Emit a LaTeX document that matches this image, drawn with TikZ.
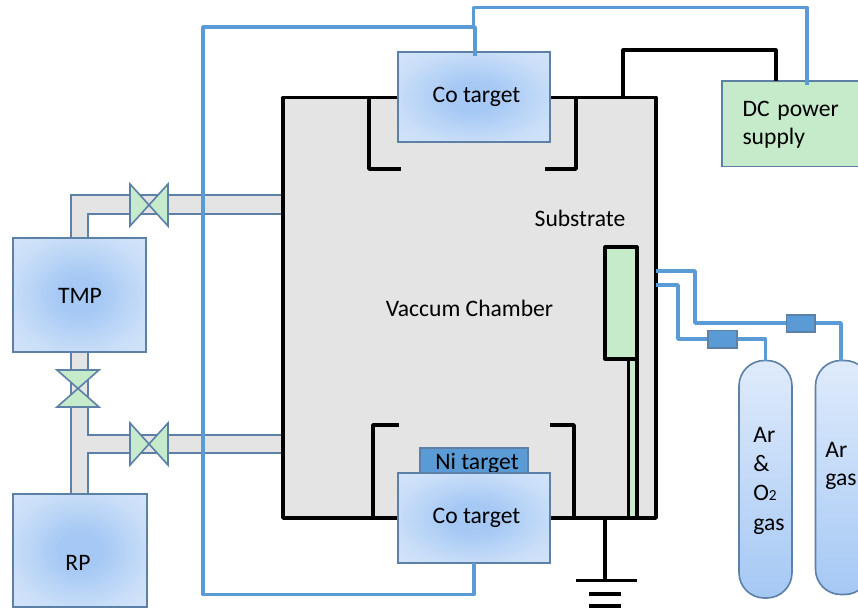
\documentclass[tikz,border=0pt]{standalone}
\usepackage{fontspec}
\setmainfont{Carlito}
\usetikzlibrary{calc}
\definecolor{edgeb}{HTML}{5C80A6}
\definecolor{wireb}{HTML}{5B9BD5}
\definecolor{greenf}{HTML}{C6EBCB}
\definecolor{grayf}{HTML}{E4E4E4}
\definecolor{glowin}{HTML}{A5C8F4}
\definecolor{glowmid}{HTML}{C9DEF8}
\definecolor{glowout}{HTML}{DFEBFB}
\pgfdeclareradialshading{tgtglow}{\pgfpoint{0bp}{0bp}}{color(0bp)=(glowin); color(8bp)=(glowin); color(26bp)=(glowmid); color(46bp)=(glowout); color(50bp)=(glowout)}
\tikzset{
  every node/.style={font=\fontsize{17.7pt}{21pt}\selectfont, text=black, inner sep=0pt, outer sep=0pt},
  blk/.style={draw=black, line width=2.7pt, line join=round},
  thinblk/.style={draw=black, line width=2.4pt, line join=round},
  wire/.style={draw=wireb, line width=2.6pt, line join=round},
  pipe/.style={draw=edgeb, fill=grayf, line width=1.2pt, line join=miter},
  glowbox/.style={draw=edgeb, line width=1.2pt, shading=tgtglow},
  chamberbox/.style={blk, fill=grayf},
  smallbox/.style={draw=edgeb, line width=1.2pt, fill=wireb},
  greenbox/.style={draw=edgeb, line width=1.2pt, fill=greenf},
  cyl/.style={draw=edgeb, line width=1.2pt, top color=glowout, bottom color=glowin, rounded corners=19pt},
  valveh/.pic={\path[draw=edgeb, line width=1.2pt, fill=greenf, line join=miter] (-19,-21) -- (19,21) -- (19,-21) -- (-19,21) -- cycle;},
  valvev/.pic={\path[draw=edgeb, line width=1.2pt, fill=greenf, line join=miter] (-21,-18.5) -- (21,18.5) -- (-21,18.5) -- (21,-18.5) -- cycle;},
}
\newcommand{\boxat}[6]{\node[#1, minimum width=#5*0.75pt-#3*0.75pt, minimum height=#6*0.75pt-#4*0.75pt] (#2) at ({(#3+#5)/2},{(#4+#6)/2}) {};}
\begin{document}
\begin{tikzpicture}[x=0.75pt,y=-0.75pt]
\useasboundingbox (0,0) rectangle (858,608);
\clip (0,0) rectangle (858,608);

% vacuum pipes
\path[pipe] (283,195) -- (71,195) -- (71,238) -- (88,238) -- (88,214) -- (283,214);
\path[pipe] (71,352) rectangle (88,494);
\path[pipe] (283,435) -- (88,435) -- (88,453) -- (283,453);
\path[fill=grayf] (85,436) rectangle (90,452);

% chamber
\boxat{chamberbox}{chamber}{283}{97.5}{656}{518}

% target shields
\coordinate (stl) at (369,97);
\coordinate (stle) at (401,169);
\coordinate (str) at (576,97);
\coordinate (stre) at (545,169);
\coordinate (sbl) at (373,518);
\coordinate (sble) at (399,425);
\coordinate (sbr) at (574,518);
\coordinate (sbre) at (550,425);
\draw[blk] (stl) |- (stle);
\draw[blk] (str) |- (stre);
\draw[blk] (sbl) |- (sble);
\draw[blk] (sbr) |- (sbre);

% substrate and holder
\boxat{thinblk, fill=greenf}{holder}{628.5}{359}{637}{518}
\boxat{thinblk, fill=greenf}{substrate}{605}{247}{637}{359}

% ground
\coordinate (gtop) at (605,518);
\coordinate (gbar) at (605,580.5);
\coordinate (gl) at (576,580.5);
\coordinate (gr) at (637,580.5);
\coordinate (gl2) at (589,594);
\coordinate (gr2) at (621,594);
\coordinate (gl3) at (589,606);
\coordinate (gr3) at (621,606);
\draw[blk] (gtop) -- (gbar);
\draw[blk] (gl) -- (gr);
\draw[blk] (gl2) -- (gr2);
\draw[blk] (gl3) -- (gr3);

% power box
\boxat{greenbox}{dc}{722}{81}{864}{166.5}
\node[text width=108pt, align=left] (dctext) at (814.5,124.5) {DC power\\supply};

% black power wire
\coordinate (bw0) at (623,97);
\coordinate (bw1) at (776,81);
\draw[thinblk] (bw0) -- (623,50) -- (776,50) -- (bw1);

% targets
\boxat{smallbox}{ni}{420}{448}{528}{473}
\node (nitext) at (477,463) {Ni target};
\boxat{glowbox}{cotop}{398}{52}{550}{142}
\node (cotoptext) at (476.5,97) {Co target};
\boxat{glowbox}{cobot}{398}{473}{550}{563}
\node (cobottext) at (476.5,517.5) {Co target};

% pumps
\boxat{glowbox}{tmp}{13}{238}{146}{352}
\node (tmptext) at (80,296) {TMP};
\boxat{glowbox}{rp}{13}{494}{147}{607}
\node (rptext) at (78,562.5) {RP};

% valves
\pic at (149,205) {valveh};
\pic at (149,444) {valveh};
\pic at (78,388.5) {valvev};

% blue wires
\coordinate (tw) at (475,56);
\coordinate (dw) at (807,85);
\draw[wire] (tw) -- (475,27) -- (203,27) -- (203,594.5) -- (474,594.5) -- (cobot.south -| 474,563);
\draw[wire] (473.5,27) -- (473.5,7.5) -- (807,7.5) -- (dw);

% gas cylinders
\boxat{cyl}{cylA}{739}{360.5}{792}{598}
\boxat{cyl}{cylB}{815.5}{360.5}{870}{594.5}
\node[align=left, text width=40pt] (cylAtext) at (780,480.5) {Ar\\[1pt]\&\\[1pt]O{\fontsize{11.5pt}{11.5pt}\selectfont 2}\\[1pt]gas};
\node[align=left, text width=40pt] (cylBtext) at (852,466) {Ar\\gas};

% gas lines
\coordinate (ga) at (656,271);
\coordinate (gb) at (656,285);
\draw[wire] (ga) -- (695,271) -- (695,323) -- (841,323) -- (841,360.5);
\draw[wire] (gb) -- (678,285) -- (678,339) -- (765.5,339) -- (765.5,360.5);
\boxat{smallbox}{mfcB}{786.5}{315}{815}{332}
\boxat{smallbox}{mfcA}{708}{330.5}{737}{348}

% labels
\node (subtext) at (580,218.5) {Substrate};
\node (chtext) at (469.5,308.5) {Vaccum Chamber};
\end{tikzpicture}
\end{document}
